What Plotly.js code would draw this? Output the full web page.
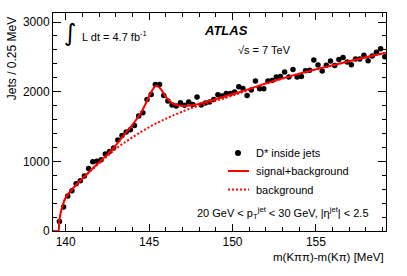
<!DOCTYPE html>
<html>
<head>
<meta charset="utf-8">
<script src="https://cdn.plot.ly/plotly-3.0.1.min.js"></script>
<style>html,body{margin:0;padding:0;background:#fff;}#chart{width:407px;height:276px;}</style>
</head>
<body>
<div id="chart"></div>
<script>
// D* candidates: bin centres (0.25 MeV bins) and counts
const massCenters = [139.625,139.875,140.125,140.375,140.625,140.875,141.125,141.375,141.625,141.875,
  142.125,142.375,142.625,142.875,143.125,143.375,143.625,143.875,144.125,144.375,
  144.625,144.875,145.125,145.375,145.625,145.875,146.125,146.375,146.625,146.875,
  147.125,147.375,147.625,147.875,148.125,148.375,148.625,148.875,149.125,149.375,
  149.625,149.875,150.125,150.375,150.625,150.875,151.125,151.375,151.625,151.875,
  152.125,152.375,152.625,152.875,153.125,153.375,153.625,153.875,154.125,154.375,
  154.625,154.875,155.125,155.375,155.625,155.875,156.125,156.375,156.625,156.875,
  157.125,157.375,157.625,157.875,158.125,158.375,158.625,158.875,159.125];
const counts = [138,345,503,577,680,720,788,898,994,1003,
  1022,1106,1140,1192,1305,1370,1420,1455,1516,1650,
  1698,1889,1961,2105,2105,1945,1865,1810,1793,1842,
  1805,1853,1817,1925,1810,1837,1851,1889,1955,1937,
  1973,1975,1994,2072,2047,1947,2023,2152,2043,2043,
  2152,2162,2210,2220,2282,2212,2320,2210,2217,2300,
  2308,2454,2385,2296,2380,2440,2378,2464,2492,2425,
  2387,2468,2468,2524,2445,2511,2565,2618,2503];

// fitted curves
const fitX = [139.24,139.57,139.6,139.7,139.85,140.0,140.25,140.5,141.0,141.5,142.0,142.5,143.0,143.5,144.0,144.5,144.8,145.1,145.4,145.7,146.0,146.3,146.7,147.2,147.8,148.5,149.5,150.5,152.0,154.0,156.0,158.0,159.2];
const fitY = [0,0,120,260,390,480,560,630,750,870,985,1100,1230,1380,1525,1690,1830,1985,2085,2040,1925,1850,1805,1795,1815,1860,1930,2000,2120,2260,2380,2495,2560];
const bkgX = [139.24,139.57,139.6,139.7,139.85,140.0,140.25,140.5,141.0,141.5,142.0,142.5,143.0,143.5,144.0,144.5,145.0,145.5,146.0,146.5,147.0,147.5,148.0,148.5,149.5,150.5,152.0,154.0,156.0,158.0,159.2];
const bkgY = [0,0,120,260,390,480,560,630,750,865,970,1075,1180,1265,1345,1420,1490,1555,1612,1665,1715,1762,1800,1838,1905,1985,2115,2258,2378,2494,2560];

const legendLabels = ["D* inside jets", "signal+background", "background"];

const FONT = "Liberation Sans, Arial, Helvetica, sans-serif";
const RED = "#ff0000";

const traces = [
  {x: massCenters, y: counts, type: "scatter", mode: "markers",
   marker: {color: "#000", size: 5.5, symbol: "circle"}, cliponaxis: true},
  {x: bkgX, y: bkgY, type: "scatter", mode: "lines",
   line: {color: RED, width: 2, dash: "2px,2px", shape: "spline", smoothing: 0.6}},
  {x: fitX, y: fitY, type: "scatter", mode: "lines",
   line: {color: RED, width: 2, shape: "spline", smoothing: 0.6}}
];

// plot area in px: x 53..386, y 13..231
const L = 53, R = 386, T = 13, B = 231;
const px = v => (v - L) / (R - L);
const py = v => (B - v) / (B - T);

const ann = (x, y, text, opts) => Object.assign({xref: "paper", yref: "paper", x: px(x), y: py(y),
  text: text, showarrow: false, font: {family: FONT, size: 11, color: "#000"}, xanchor: "left", yanchor: "middle"}, opts || {});

const layout = {
  width: 407, height: 276,
  margin: {l: L, r: 407 - R, t: T, b: 276 - B},
  paper_bgcolor: "#fff", plot_bgcolor: "#fff",
  showlegend: false,
  font: {family: FONT, size: 11, color: "#000"},
  xaxis: {range: [139.24, 159.2], dtick: 5, tick0: 140, ticks: "inside", ticklen: 7, tickcolor: "#000",
    showline: true, linecolor: "#000", linewidth: 1, mirror: "ticks", showgrid: false, zeroline: false,
    minor: {dtick: 1, ticks: "inside", ticklen: 4, tickcolor: "#000"},
    tickfont: {family: FONT, size: 12}},
  yaxis: {range: [0, 3130], dtick: 1000, tick0: 0, ticks: "inside", ticklen: 8, tickcolor: "#000",
    showline: true, linecolor: "#000", linewidth: 1, mirror: "ticks", showgrid: false, zeroline: false,
    minor: {dtick: 200, ticks: "inside", ticklen: 4, tickcolor: "#000"},
    tickfont: {family: FONT, size: 12}},
  annotations: [
    ann(386, 257, "m(Kππ)-m(Kπ) [MeV]", {xanchor: "right", font: {family: FONT, size: 11.5}}),
    ann(12.7, 15, "Jets / 0.25 MeV", {textangle: -90, xanchor: "center", yanchor: "top", font: {family: FONT, size: 12}}),
    ann(70, 33, "∫", {xanchor: "center", font: {family: "DejaVu Sans", size: 24}}),
    ann(80, 36, "L dt = 4.7 fb<sup>-1</sup>"),
    ann(225.5, 31, "<b><i>ATLAS</i></b>", {xanchor: "center", font: {family: FONT, size: 13}}),
    ann(264.5, 50, "√s = 7 TeV", {xanchor: "center"}),
    ann(254, 153, legendLabels[0]),
    ann(254, 171, legendLabels[1]),
    ann(254, 189.5, legendLabels[2]),
    ann(195, 213, "20 GeV < p<sub>T</sub><sup>jet</sup> < 30 GeV, |η<sup>jet</sup>| < 2.5")
  ],
  shapes: [
    {type: "circle", xref: "paper", yref: "paper", xsizemode: "pixel", ysizemode: "pixel",
     xanchor: px(238), yanchor: py(153), x0: -3, x1: 3, y0: -3, y1: 3,
     fillcolor: "#000", line: {color: "#000", width: 0}},
    {type: "line", xref: "paper", yref: "paper", x0: px(228), x1: px(249), y0: py(171), y1: py(171),
     line: {color: RED, width: 2}},
    {type: "line", xref: "paper", yref: "paper", x0: px(228), x1: px(249), y0: py(189.5), y1: py(189.5),
     line: {color: RED, width: 2, dash: "2px,2px"}}
  ]
};

Plotly.newPlot("chart", traces, layout, {staticPlot: true, displayModeBar: false});
</script>
</body>
</html>
